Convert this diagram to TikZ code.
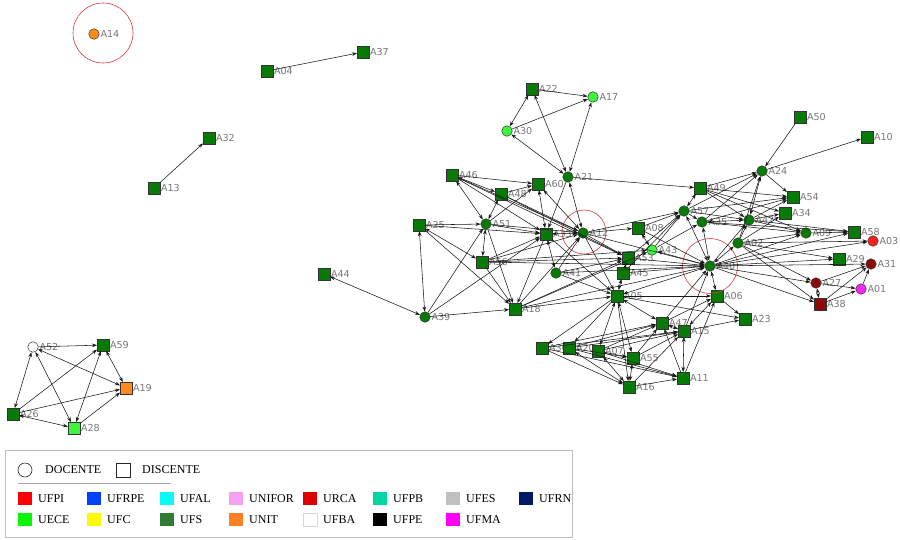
\documentclass[tikz,border=0pt]{standalone}
\usepackage{fontspec}
\setmainfont{Liberation Serif}
\newfontfamily\lblfont{DejaVu Sans}
\usetikzlibrary{arrows.meta}
\definecolor{nufs}{RGB}{8,122,8}
\definecolor{nuece}{RGB}{60,245,60}
\definecolor{nunit}{RGB}{255,140,26}
\definecolor{nurca}{RGB}{140,10,10}
\definecolor{nufpi}{RGB}{255,30,30}
\definecolor{nufma}{RGB}{245,40,245}
\definecolor{lufpi}{RGB}{255,0,0}
\definecolor{lufrpe}{RGB}{0,64,255}
\definecolor{lufal}{RGB}{10,250,250}
\definecolor{lunifor}{RGB}{245,160,240}
\definecolor{lurca}{RGB}{220,0,0}
\definecolor{lufpb}{RGB}{0,215,160}
\definecolor{lufes}{RGB}{192,192,192}
\definecolor{lufrn}{RGB}{0,26,102}
\definecolor{luece}{RGB}{10,245,10}
\definecolor{lufc}{RGB}{255,250,0}
\definecolor{lufs}{RGB}{46,125,50}
\definecolor{lunit}{RGB}{255,127,39}
\definecolor{lufpe}{RGB}{0,0,0}
\definecolor{lufma}{RGB}{255,0,255}
\definecolor{ringred}{RGB}{210,60,60}
\definecolor{labgray}{RGB}{120,120,120}
\newcommand\mknode[5]{\node[#1=#2,label={[lab]0:#3}] (#3) at (#4,#5) {};}
\begin{document}
\begin{tikzpicture}[x=1pt,y=-1pt,
  sq/.style={rectangle,draw=black!80,fill=#1,minimum size=11.5pt,inner sep=0pt,line width=0.5pt},
  ci/.style={circle,draw=black!80,fill=#1,minimum size=10.5pt,inner sep=0pt,line width=0.5pt},
  lab/.style={font=\lblfont\fontsize{9.6}{11}\selectfont,text=labgray,inner sep=0.5pt,label distance=0.3pt},
  arr/.style={-{Stealth[length=5pt,width=3.6pt]},line width=0.55pt,black!90},
  barr/.style={{Stealth[length=5pt,width=3.6pt]}-{Stealth[length=5pt,width=3.6pt]},line width=0.55pt,black!90},
  ring/.style={draw=ringred,line width=0.6pt},
  legtxt/.style={anchor=west,inner sep=0pt,font=\fontsize{12}{14}\selectfont}]
\useasboundingbox (0,0) rectangle (900,539);
\fill[white] (0,0) rectangle (900,539);
% nodes
\mknode{ci}{nunit}{A14}{94}{34}
\mknode{sq}{nufs}{A04}{267}{71}
\mknode{sq}{nufs}{A37}{363}{52}
\mknode{sq}{nufs}{A32}{209}{138}
\mknode{sq}{nufs}{A13}{154}{188}
\mknode{sq}{nufs}{A44}{324}{274}
\mknode{ci}{white}{A52}{33}{347}
\mknode{sq}{nufs}{A59}{103}{345}
\mknode{sq}{nunit}{A19}{126}{388}
\mknode{sq}{nufs}{A26}{13}{414}
\mknode{sq}{nuece}{A28}{74}{428}
\mknode{sq}{nufs}{A22}{532}{89}
\mknode{ci}{nuece}{A17}{593}{97}
\mknode{ci}{nuece}{A30}{507}{131}
\mknode{ci}{nufs}{A21}{568}{177}
\mknode{sq}{nufs}{A46}{452}{175}
\mknode{sq}{nufs}{A48}{501}{194}
\mknode{sq}{nufs}{A60}{538}{184}
\mknode{sq}{nufs}{A25}{419}{225}
\mknode{ci}{nufs}{A51}{486}{224}
\mknode{sq}{nufs}{A33}{546}{234}
\mknode{ci}{nufs}{A12}{583}{233}
\mknode{sq}{nufs}{A08}{638}{228}
\mknode{ci}{nuece}{A43}{652}{250}
\mknode{sq}{nufs}{A53}{628}{258}
\mknode{sq}{nufs}{A45}{623}{273}
\mknode{ci}{nufs}{A41}{556}{273}
\mknode{sq}{nufs}{A56}{482}{262}
\mknode{ci}{nufs}{A39}{425}{317}
\mknode{sq}{nufs}{A18}{515}{309}
\mknode{sq}{nufs}{A05}{617}{296}
\mknode{ci}{nufs}{A57}{684}{211}
\mknode{sq}{nufs}{A49}{700}{188}
\mknode{ci}{nufs}{A35}{702}{222}
\mknode{ci}{nufs}{A42}{749}{220}
\mknode{ci}{nufs}{A02}{738}{243}
\mknode{ci}{nufs}{A24}{762}{171}
\mknode{sq}{nufs}{A50}{800}{117}
\mknode{sq}{nufs}{A10}{867}{137}
\mknode{sq}{nufs}{A54}{793}{197}
\mknode{sq}{nufs}{A34}{785}{213}
\mknode{ci}{nufs}{A09}{806}{233}
\mknode{sq}{nufs}{A58}{854}{232}
\mknode{ci}{nufpi}{A03}{873}{241}
\mknode{ci}{nufs}{A40}{710}{266}
\mknode{sq}{nufs}{A29}{839}{259}
\mknode{ci}{nurca}{A31}{871}{264}
\mknode{ci}{nurca}{A27}{816}{283}
\mknode{ci}{nufma}{A01}{861}{289}
\mknode{sq}{nurca}{A38}{820}{304}
\mknode{sq}{nufs}{A06}{717}{296}
\mknode{sq}{nufs}{A23}{745}{319}
\mknode{sq}{nufs}{A47}{662}{323}
\mknode{sq}{nufs}{A15}{684}{331}
\mknode{sq}{nufs}{A36}{542}{348}
\mknode{sq}{nufs}{A20}{569}{348}
\mknode{sq}{nufs}{A07}{598}{351}
\mknode{sq}{nufs}{A55}{633}{358}
\mknode{sq}{nufs}{A16}{629}{387}
\mknode{sq}{nufs}{A11}{683}{378}
% rings
\node[ring,circle,minimum size=60pt,inner sep=0pt] (R14) at (103,33) {};
\node[ring,circle,minimum size=44pt,inner sep=0pt] (R12) at (584,232) {};
\node[ring,circle,minimum size=55pt,inner sep=0pt] (R40) at (710,266) {};
% one-way edges
\foreach \a/\b in {A04/A37,A13/A32,A52/A59,A26/A59,A26/A19,A28/A19,A22/A17,A30/A17,A21/A49,
  A46/A60,A48/A60,A46/A33,A46/A12,A48/A12,A51/A60,A51/A12,A21/A33,A25/A51,A25/A33,A25/A18,
  A51/A33,A51/A18,A39/A51,A39/A33,A39/A18,A56/A33,A56/A18,A56/A12,A56/A53,A56/A40,A33/A18,
  A33/A05,A12/A08,A12/A53,A12/A05,A12/A40,A12/A57,A08/A57,A08/A40,A41/A12,A41/A05,A41/A53,
  A53/A40,A45/A57,A18/A05,A18/A12,A18/A53,A18/A40,A05/A06,A05/A23,A05/A20,A05/A36,A05/A16,
  A47/A40,A47/A06,A15/A23,A15/A40,A36/A47,A36/A11,A36/A16,A20/A47,A20/A15,A20/A11,A07/A47,
  A07/A55,A07/A11,A55/A47,A55/A15,A16/A11,A16/A15,A11/A47,A06/A23,A40/A29,A40/A27,A40/A38,
  A40/A58,A40/A03,A40/A31,A40/A42,A40/A09,A57/A35,A57/A42,A57/A24,A57/A54,A49/A24,A49/A54,
  A49/A34,A49/A42,A49/A09,A35/A24,A35/A54,A35/A09,A35/A58,A42/A09,A42/A34,A42/A54,A42/A58,
  A02/A42,A02/A24,A02/A09,A02/A34,A02/A29,A02/A27,A02/A03,A02/A38,A50/A24,A24/A10,A24/A54,
  A09/A58,A27/A01,A27/A31,A38/A01,A38/A31,A01/A31,A43/A57,A43/A35,A53/A57,A45/A40,A41/A40,
  A48/A53,A46/A53,A56/A43,A18/A43,A36/A15,A07/A15,A20/A55,A11/A06}
  {\draw[arr] (\a) -- (\b);}
% two-way edges
\foreach \a/\b in {A44/A39,A52/A26,A52/A28,A52/A19,A59/A19,A59/A28,A26/A28,A22/A30,A22/A21,
  A17/A21,A30/A21,A46/A48,A46/A51,A48/A51,A60/A33,A60/A12,A21/A12,A25/A39,A25/A56,A51/A56,
  A33/A12,A33/A41,A08/A43,A53/A45,A45/A05,A05/A47,A05/A40,A05/A55,A05/A07,A47/A15,A15/A11,
  A15/A06,A20/A16,A07/A16,A55/A16,A06/A40,A40/A57,A40/A35,A40/A02,A40/A43,A57/A49,A35/A42,
  A42/A24,A27/A38}
  {\draw[barr] (\a) -- (\b);}
% legend
\draw[black!25] (5,450) rectangle (572,537);
\node[circle,draw=black!85,line width=0.6pt,minimum size=14pt,inner sep=0pt] (Lci) at (25,470) {};
\node[legtxt] (Ldoc) at (45,470) {DOCENTE};
\node[rectangle,draw=black!85,line width=0.6pt,minimum size=14pt,inner sep=0pt] (Lsq) at (123,470) {};
\node[legtxt] (Ldis) at (142,470) {DISCENTE};
\draw[black!35] (18,483) -- (171,483);
\foreach \x/\c/\t in {18/lufpi/UFPI,87/lufrpe/UFRPE,160/lufal/UFAL,229/lunifor/UNIFOR,303/lurca/URCA,373/lufpb/UFPB,446/lufes/UFES,519/lufrn/UFRN}{
  \fill[\c] (\x,492) rectangle ++(14,13);
  \node[legtxt] (L\t) at (\x+20,498.5) {\t};}
\foreach \x/\c/\t in {18/luece/UECE,87/lufc/UFC,160/lufs/UFS,229/lunit/UNIT,303/white/UFBA,373/lufpe/UFPE,446/lufma/UFMA}{
  \fill[\c] (\x,513) rectangle ++(14,13);
  \node[legtxt] (L\t) at (\x+20,520) {\t};}
\draw[black!15] (303,513) rectangle ++(14,13);
\end{tikzpicture}
\end{document}
